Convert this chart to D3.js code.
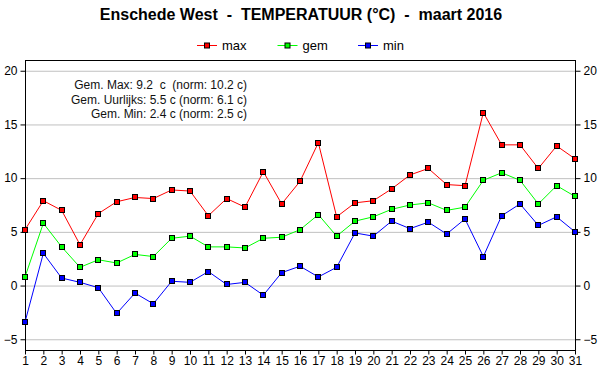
<!DOCTYPE html>
<html>
<head>
<meta charset="utf-8">
<script src="https://cdn.jsdelivr.net/npm/d3@7"></script>
<style>
body { margin: 0; background: #fff; }
text { font-family: "Liberation Sans", Arial, sans-serif; }
</style>
</head>
<body>
<script>
// dagen van maart 2016
var days = d3.range(1, 32);
var maxTemp = [5.2, 7.9, 7.0, 3.8, 6.7, 7.8, 8.2, 8.1, 8.9, 8.8,
    6.5, 8.1, 7.3, 10.6, 7.6, 9.7, 13.3, 6.4, 7.7, 7.9, 9.0,
    10.3, 10.9, 9.4, 9.3, 16.1, 13.1, 13.1, 10.9, 13.0, 11.8];
var gemTemp = [0.8, 5.8, 3.6, 1.7, 2.4, 2.1, 2.9, 2.7, 4.4, 4.6,
    3.6, 3.6, 3.5, 4.4, 4.5, 5.2, 6.6, 4.6, 6.0, 6.4, 7.1,
    7.5, 7.7, 7.0, 7.3, 9.8, 10.5, 9.8, 7.6, 9.3, 8.3];
var minTemp = [-3.4, 3.0, 0.7, 0.3, -0.2, -2.6, -0.7, -1.7, 0.4, 0.3,
    1.3, 0.1, 0.3, -0.9, 1.2, 1.8, 0.8, 1.7, 4.9, 4.6, 6.0,
    5.3, 5.9, 4.8, 6.2, 2.7, 6.5, 7.6, 5.6, 6.4, 5.0];
var yTicks = [-5, 0, 5, 10, 15, 20];
var seriesNames = ["max", "gem", "min"];
var seriesColors = ["#ff0000", "#00ff00", "#0000ff"];
var notes = ["Gem. Max: 9.2  c  (norm: 10.2 c)",
    "Gem. Uurlijks: 5.5 c (norm: 6.1 c)",
    "Gem. Min: 2.4 c (norm: 2.5 c)"];

function setupSvg() {
    var width = 600, height = 390;
    var svg = d3.select("body")
        .append("svg")
        .attr("width", width)
        .attr("height", height);

    var x = d3.scaleLinear().domain([1, 31]).range([25, 575]);
    var y = d3.scaleLinear().domain([-6, 21]).range([350, 60]);

    // rasterlijnen
    svg.append("g")
        .selectAll("line")
        .data(yTicks)
        .enter().append("line")
        .attr("x1", 25).attr("x2", 575)
        .attr("y1", function(d) { return y(d) + 0.5; })
        .attr("y2", function(d) { return y(d) + 0.5; })
        .attr("stroke", "#c0c0c0");

    var left = svg.append("g")
        .attr("transform", "translate(25.5,0)")
        .call(d3.axisLeft(y).tickValues(yTicks).tickSize(5).tickPadding(3));
    var right = svg.append("g")
        .attr("transform", "translate(575.5,0)")
        .call(d3.axisRight(y).tickValues(yTicks).tickSize(5).tickPadding(3));
    var bottom = svg.append("g")
        .attr("transform", "translate(0,350.5)")
        .call(d3.axisBottom(x).tickValues(days).tickFormat(d3.format("d")).tickSize(4).tickPadding(2));

    [left, right, bottom].forEach(function(a) {
        a.select(".domain").remove();
        a.selectAll("text").style("font-size", "12px").attr("fill", "#000")
            .style("font-family", "'Liberation Sans', Arial, sans-serif");
        a.selectAll("line").attr("stroke", "#000");
    });

    // kader
    svg.append("rect")
        .attr("x", 25.5).attr("y", 60.5)
        .attr("width", 550).attr("height", 290)
        .attr("fill", "none")
        .attr("stroke", "#000");

    var all = [maxTemp, gemTemp, minTemp];
    var line = d3.line()
        .x(function(d, i) { return x(days[i]); })
        .y(function(d) { return y(d); });

    all.forEach(function(vals, k) {
        svg.append("path")
            .datum(vals)
            .attr("d", line)
            .attr("fill", "none")
            .attr("stroke", seriesColors[k])
            .attr("stroke-width", 1);
        svg.append("g")
            .selectAll("rect")
            .data(vals)
            .enter().append("rect")
            .attr("x", function(d, i) { return Math.round(x(days[i])) - 2.5; })
            .attr("y", function(d) { return Math.round(y(d)) - 2.5; })
            .attr("width", 5).attr("height", 5)
            .attr("fill", seriesColors[k])
            .attr("stroke", "#000");
    });

    // titel
    svg.append("text")
        .attr("x", 301).attr("y", 20)
        .attr("text-anchor", "middle")
        .style("font-size", "16px")
        .style("font-weight", "bold")
        .style("white-space", "pre")
        .text("Enschede West  -  TEMPERATUUR (°C)  -  maart 2016");

    // legenda
    var leg = svg.append("g")
        .selectAll("g")
        .data(seriesNames)
        .enter().append("g")
        .attr("transform", function(d, i) { return "translate(" + (197 + i * 80.5) + ",45)"; });
    leg.append("line")
        .attr("x1", 0).attr("x2", 20).attr("y1", 0.5).attr("y2", 0.5)
        .attr("stroke", function(d, i) { return seriesColors[i]; });
    leg.append("rect")
        .attr("x", 7.5).attr("y", -2).attr("width", 5).attr("height", 5)
        .attr("fill", function(d, i) { return seriesColors[i]; })
        .attr("stroke", "#000");
    leg.append("text")
        .attr("x", 25).attr("y", 5)
        .style("font-size", "13px")
        .text(function(d) { return d; });

    // gemiddelden
    svg.append("g")
        .selectAll("text")
        .data(notes)
        .enter().append("text")
        .attr("x", 247)
        .attr("y", function(d, i) { return 89 + i * 14.5; })
        .attr("text-anchor", "end")
        .style("font-size", "12px")
        .style("white-space", "pre")
        .attr("fill", "#111")
        .text(function(d) { return d; });
}

setupSvg();
</script>
</body>
</html>
